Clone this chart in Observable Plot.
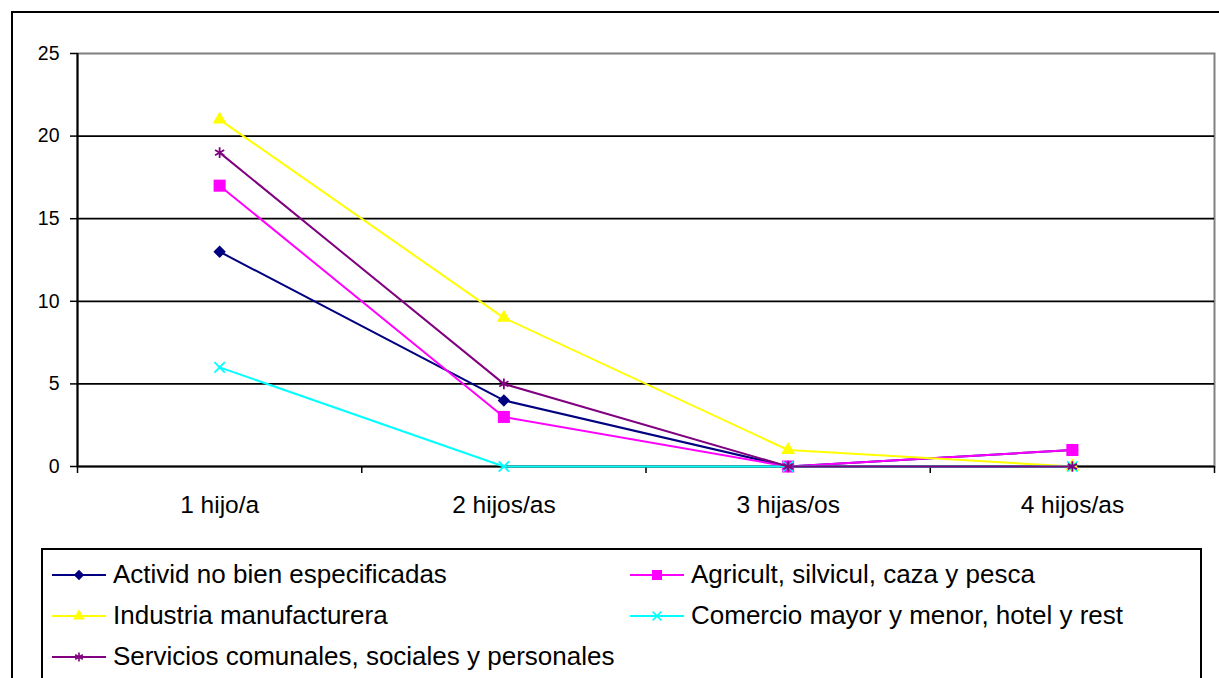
<!DOCTYPE html>
<html>
<head>
<meta charset="utf-8">
<script src="https://cdn.jsdelivr.net/npm/d3@7"></script>
<script src="https://cdn.jsdelivr.net/npm/@observablehq/plot@0.6"></script>
<style>
  html, body { margin: 0; padding: 0; background: #fff; }
  #wrap { position: relative; width: 1219px; height: 678px; overflow: hidden; font-family: "Liberation Sans", Arial, sans-serif; }
  #outer { position: absolute; left: 11px; top: 11px; width: 1300px; height: 800px; border-left: 2px solid #000; border-top: 2px solid #000; }
  #chart { position: absolute; left: 0; top: 0; }
  #legend { position: absolute; left: 41px; top: 548px; width: 1161px; height: 160px; border: 2px solid #000; box-sizing: border-box; background: #fff; }
  .entry { position: absolute; height: 41px; display: flex; align-items: center; font-size: 26px; color: #000; white-space: nowrap; }
  .entry svg { margin-right: 7px; }
  #chart g[aria-label="y-axis tick label"] { font-size: 19.5px; }
  #chart g[aria-label="x-axis tick label"] { font-size: 24.5px; }
</style>
</head>
<body>
<div id="wrap">
  <div id="outer"></div>
  <div id="chart"></div>
  <div id="legend"></div>
</div>
<script>
// ---- data ----
const categories = ["1 hijo/a", "2 hijos/as", "3 hijas/os", "4 hijos/as"];
const seriesNames = [
  "Activid no bien especificadas",
  "Agricult, silvicul, caza y pesca",
  "Industria manufacturera",
  "Comercio mayor y menor, hotel y rest",
  "Servicios comunales, sociales y personales"
];
const actividValues   = [13, 4, 0, 1];
const agricultValues  = [17, 3, 0, 1];
const industriaValues = [21, 9, 1, 0];
const comercioValues  = [6, 0, 0, 0];
const serviciosValues = [19, 5, 0, 0];
const yTicks = [0, 5, 10, 15, 20, 25];

const seriesValues = [actividValues, agricultValues, industriaValues, comercioValues, serviciosValues];

// ---- styles (kept apart from data) ----
const seriesStyles = [
  {color: "#000080", symbol: "diamond2", r: 5.6, filled: true,  d3sym: d3.symbolDiamond2},
  {color: "#FF00FF", symbol: "square",   r: 6.8, filled: true,  d3sym: d3.symbolSquare},
  {color: "#FFFF00", symbol: "triangle", r: 5.2, filled: true,  d3sym: d3.symbolTriangle},
  {color: "#00FFFF", symbol: "times",    r: 4.8, filled: false, d3sym: d3.symbolTimes},
  {color: "#800080", symbol: "asterisk", r: 5.0, filled: false, d3sym: d3.symbolAsterisk}
];

// tidy table built from the arrays
const rows = seriesNames.map((name, s) =>
  categories.map((c, i) => ({series: name, idx: i + 0.5, category: c, value: seriesValues[s][i]}))
);

const seriesMarks = [];
rows.forEach((data, s) => {
  const st = seriesStyles[s];
  seriesMarks.push(Plot.line(data, {x: "idx", y: "value", stroke: st.color, strokeWidth: 2}));
  seriesMarks.push(Plot.dot(data, {
    x: "idx", y: "value", symbol: () => st.symbol, r: st.r,
    fill: st.filled ? st.color : "none",
    stroke: st.color, strokeWidth: st.filled ? 0 : 1.8
  }));
});

const chart = Plot.plot({
  width: 1219,
  height: 540,
  marginLeft: 77,
  marginRight: 5,
  marginTop: 53,
  marginBottom: 74,
  style: {fontFamily: "'Liberation Sans', Arial, sans-serif", background: "transparent", color: "#000"},
  x: {type: "linear", domain: [0, categories.length]},
  y: {domain: [0, 25]},
  symbol: {type: "identity"},
  marks: [
    Plot.frame({stroke: "#808080", strokeWidth: 2}),
    Plot.ruleY(yTicks.filter(t => t > 0 && t < 25), {stroke: "#000", strokeWidth: 1.7}),
    Plot.ruleY([0], {stroke: "#000", strokeWidth: 2}),
    Plot.ruleX([0], {stroke: "#000", strokeWidth: 2}),
    Plot.axisY({ticks: yTicks, tickSize: 7, tickPadding: 11, fontSize: 19.5, label: null, strokeWidth: 1.5, tickFormat: d => String(d)}),
    Plot.axisX({ticks: d3.range(categories.length + 1), tickSize: 7, tickFormat: () => "", label: null, strokeWidth: 1.5}),
    Plot.axisX({ticks: categories.map((c, i) => i + 0.5), tickSize: 0, tickPadding: 29, fontSize: 24.5, label: null,
      tickFormat: d => categories[Math.round(d - 0.5)]}),
    ...seriesMarks
  ]
});
document.getElementById("chart").appendChild(chart);

// ---- legend ----
const legend = document.getElementById("legend");
const colX = [9, 587];
seriesNames.forEach((name, s) => {
  const st = seriesStyles[s];
  const row = Math.floor(s / 2), col = s % 2;
  const e = document.createElement("div");
  e.className = "entry";
  e.style.left = colX[col] + "px";
  e.style.top = (4 + row * 41) + "px";
  const sv = d3.create("svg").attr("width", 54).attr("height", 20);
  sv.append("line").attr("x1", 0).attr("x2", 54).attr("y1", 10).attr("y2", 10)
    .attr("stroke", st.color).attr("stroke-width", 2);
  sv.append("path")
    .attr("transform", "translate(27,10)")
    .attr("d", d3.symbol(st.d3sym, Math.PI * st.r * st.r * 0.7)())
    .attr("fill", st.filled ? st.color : "none")
    .attr("stroke", st.filled ? "none" : st.color)
    .attr("stroke-width", 1.6);
  e.appendChild(sv.node());
  const t = document.createElement("span");
  t.textContent = name;
  e.appendChild(t);
  legend.appendChild(e);
});
</script>
</body>
</html>
